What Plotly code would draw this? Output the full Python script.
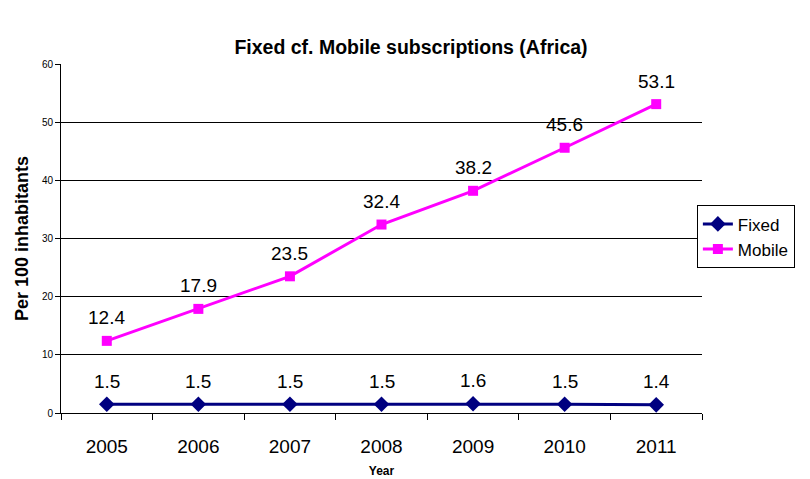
import plotly.graph_objects as go

years = ["2005", "2006", "2007", "2008", "2009", "2010", "2011"]
fixed = [1.5, 1.5, 1.5, 1.5, 1.6, 1.5, 1.4]
mobile = [12.4, 17.9, 23.5, 32.4, 38.2, 45.6, 53.1]
y_ticks = [0, 10, 20, 30, 40, 50, 60]

font = "Liberation Sans, Arial, sans-serif"

fig = go.Figure()
fig.add_trace(go.Scatter(
    x=years, y=fixed, name="Fixed", mode="lines+markers",
    line=dict(color="#000080", width=3),
    marker=dict(symbol="diamond", size=12, color="#000080"),
))
fig.add_trace(go.Scatter(
    x=years, y=mobile, name="Mobile", mode="lines+markers",
    line=dict(color="#FF00FF", width=3),
    marker=dict(symbol="square", size=10, color="#FF00FF"),
))

annotations = []
for series in (fixed, mobile):
    for i, v in enumerate(series):
        annotations.append(dict(
            x=i, y=v, xref="x", yref="y", text=f"{v:.1f}", showarrow=False,
            yanchor="middle", xanchor="center", yshift=23,
            font=dict(size=19, color="black", family=font),
        ))

fig.update_layout(
    width=802, height=471,
    margin=dict(l=53, r=108, t=56, b=66, autoexpand=False),
    paper_bgcolor="white", plot_bgcolor="white",
    font=dict(family=font, color="black"),
    title=dict(text="<b>Fixed cf. Mobile subscriptions (Africa)</b>",
               x=0.5025, xanchor="center", xref="container", y=0.917, yanchor="middle",
               font=dict(size=19.5, family=font)),
    legend=dict(x=0.992, y=0.595, xanchor="left", yanchor="top",
                bordercolor="black", borderwidth=1, bgcolor="white",
                font=dict(size=17, family=font), tracegroupgap=0,
                itemwidth=30),
    showlegend=True,
    annotations=annotations,
)
fig.update_xaxes(
    type="category", categoryorder="array", categoryarray=years,
    range=[-0.5, len(years) - 0.5],
    tickson="boundaries", ticks="outside", ticklen=6, tickangle=0,
    tickcolor="black", showline=True, linecolor="black", linewidth=1,
    showgrid=False, tickfont=dict(size=19, family=font), ticklabelstandoff=16,
    title=dict(text="<b>Year</b>", font=dict(size=12, family=font), standoff=10),
)
fig.update_yaxes(
    range=[0, 60], tickvals=y_ticks, ticks="outside", ticklen=5,
    tickcolor="black", showline=True, linecolor="black", linewidth=1,
    showgrid=True, gridcolor="black", gridwidth=1, zeroline=False,
    tickfont=dict(size=10, family=font),
    title=dict(text="<b>Per 100 inhabitants</b>", font=dict(size=18, family=font), standoff=8),
)

fig.write_html("out.html")
